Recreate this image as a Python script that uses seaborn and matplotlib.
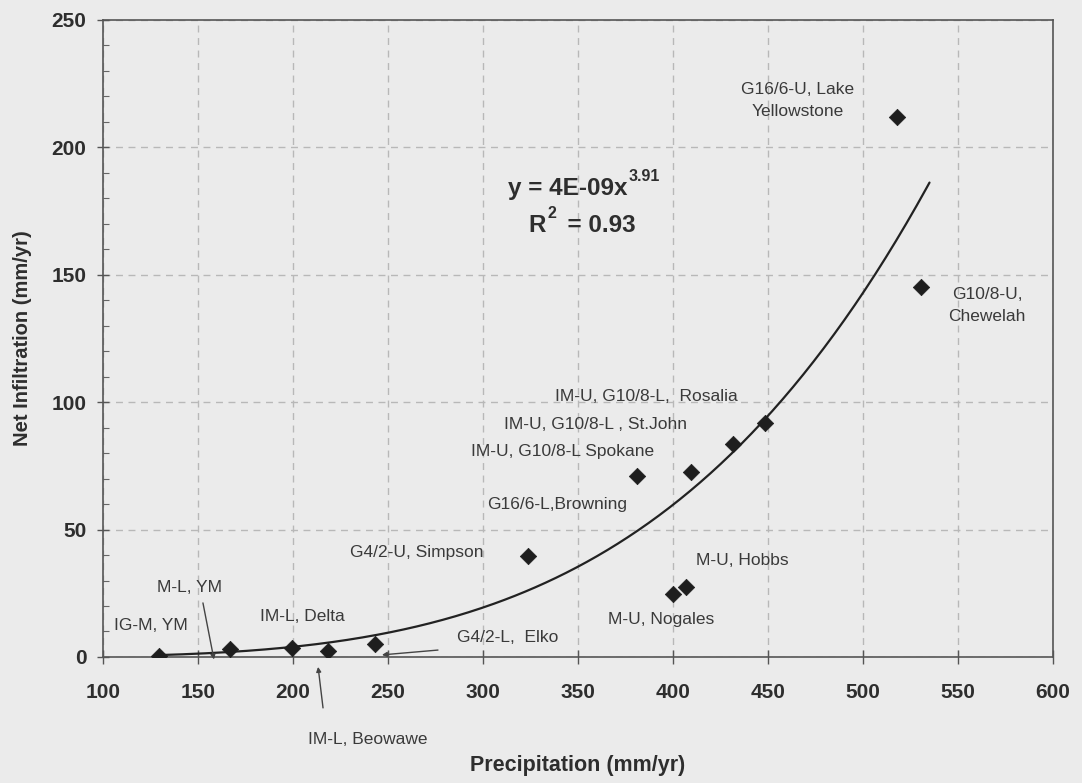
import numpy as np
import pandas as pd
import matplotlib
matplotlib.use("Agg")
import matplotlib.pyplot as plt
import seaborn as sns

# Site observations: precipitation vs. net infiltration (mm/yr)
precip = [129.5, 166.8, 199.5, 218.4, 243.0, 323.7, 381.0, 409.5, 431.6, 448.4,
          400.0, 406.8, 518.0, 530.5]
infiltration = [0.5, 3.1, 3.5, 2.4, 5.1, 39.6, 70.9, 72.5, 83.5, 91.7,
                 24.7, 27.4, 212.0, 145.0]

# Power-law fit reported on the chart: y = a * x^b
fit_a = 4e-9
fit_b = 3.91
fit_r2 = 0.93
fit_x_range = (129.5, 535.0)

x_ticks = [100, 150, 200, 250, 300, 350, 400, 450, 500, 550, 600]
y_ticks = [0, 50, 100, 150, 200, 250]

# Site annotations: (text, x, y, ha)
site_labels = [
    ("IG-M, YM", 106.0, 12.5, "left"),
    ("M-L, YM", 128.4, 27.4, "left"),
    ("IM-L, Delta", 182.6, 15.7, "left"),
    ("G4/2-L,  Elko", 286.3, 7.8, "left"),
    ("G4/2-U, Simpson", 230.0, 40.8, "left"),
    ("G16/6-L,Browning", 302.0, 60.0, "left"),
    ("IM-U, G10/8-L Spokane", 293.7, 80.7, "left"),
    ("IM-U, G10/8-L , St.John", 311.0, 91.3, "left"),
    ("IM-U, G10/8-L,  Rosalia", 337.9, 102.3, "left"),
    ("M-U, Hobbs", 412.0, 38.0, "left"),
    ("M-U, Nogales", 365.8, 14.5, "left"),
    ("G16/6-U, Lake\nYellowstone", 465.8, 218.3, "center"),
    ("G10/8-U,\nChewelah", 565.3, 137.9, "center"),
]

# Pointers from labels to their sites: (text_xy, tip_xy)
pointer_lines = [
    ((152.6, 21.2), (158.4, -1.0)),   # M-L, YM
    ((215.8, -20.0), (213.2, -3.9)),  # IM-L, Beowawe
    ((276.3, 2.7), (246.8, 0.8)),     # G4/2-L, Elko
]
beowawe_text = ("IM-L, Beowawe", 207.9, -32.5)

bg = "#ebebeb"
ink = "#2e2e2e"
label_ink = "#3a3a3a"

sns.set_theme(style="white")
plt.rcParams["font.family"] = ["Liberation Sans", "DejaVu Sans"]

fig = plt.figure(figsize=(10.82, 7.83), dpi=100, facecolor=bg)
ax = fig.add_axes([0.0952, 0.161, 0.878, 0.8135])
ax.set_facecolor(bg)

obs = pd.DataFrame({"precip": precip, "infiltration": infiltration})
xs = np.linspace(fit_x_range[0], fit_x_range[1], 300)
fit = pd.DataFrame({"precip": xs, "infiltration": fit_a * xs ** fit_b})

sns.lineplot(data=fit, x="precip", y="infiltration", ax=ax, color="#222222",
             linewidth=1.6, zorder=3)
sns.scatterplot(data=obs, x="precip", y="infiltration", ax=ax, marker="D",
                s=70, color="#1e1e1e", edgecolor="#1e1e1e", linewidth=0.5,
                zorder=4)

ax.set_xlim(100, 600)
ax.set_ylim(0, 250)
ax.set_xticks(x_ticks)
ax.set_yticks(y_ticks)
ax.set_yticks(np.arange(0, 251, 10), minor=True)
ax.tick_params(axis="x", which="major", direction="inout", length=10, width=1,
               color="#555555", labelsize=15, labelcolor=ink, pad=14)
ax.tick_params(axis="y", which="major", direction="inout", length=8, width=1,
               color="#555555", labelsize=15, labelcolor=ink, pad=8)
ax.tick_params(axis="y", which="minor", direction="in", length=4, width=0.8,
               color="#666666", left=True)
ax.tick_params(bottom=True, left=True)
for lbl in ax.get_xticklabels() + ax.get_yticklabels():
    lbl.set_fontweight("bold")

ax.grid(True, which="major", axis="both", linestyle=(0, (5, 4)),
        color="#b8b8b8", linewidth=1.0)
for sp in ax.spines.values():
    sp.set_color("#555555")
    sp.set_linewidth(1.2)

ax.set_xlabel("Precipitation (mm/yr)", fontsize=15.5, fontweight="bold",
              color=ink, labelpad=38)
ax.set_ylabel("Net Infiltration (mm/yr)", fontsize=14.5, fontweight="bold",
              color=ink, labelpad=14)

for text, x, y, ha in site_labels:
    ax.text(x, y, text, fontsize=12.5, color=label_ink, ha=ha, va="center",
            linespacing=1.55, zorder=5)

ax.text(beowawe_text[1], beowawe_text[2], beowawe_text[0], fontsize=12.5,
        color=label_ink, ha="left", va="center", clip_on=False)

for start, tip in pointer_lines:
    ax.annotate("", xy=tip, xytext=start, annotation_clip=False,
                arrowprops=dict(arrowstyle="-|>", color="#444444", lw=1.0,
                                mutation_scale=7, shrinkA=0, shrinkB=0))

# Fit equation and coefficient of determination
eq_kw = dict(fontsize=17.5, fontweight="bold", color=ink, va="center")
sup_kw = dict(fontsize=11.5, fontweight="bold", color=ink, va="center",
              textcoords="offset points")
ax.text(375.8, 183.8, "y = 4E-09x", ha="right", **eq_kw)
ax.annotate(f"{fit_b}", xy=(375.8, 183.8), xytext=(1, 9), ha="left", **sup_kw)
ax.text(333.0, 169.3, "R", ha="right", **eq_kw)
ax.annotate("2", xy=(333.0, 169.3), xytext=(1, 9), ha="left", **sup_kw)
ax.text(337.5, 169.3, "  = " + f"{fit_r2}", ha="left", **eq_kw)

fig.savefig("out.png", dpi=100, facecolor=bg)
